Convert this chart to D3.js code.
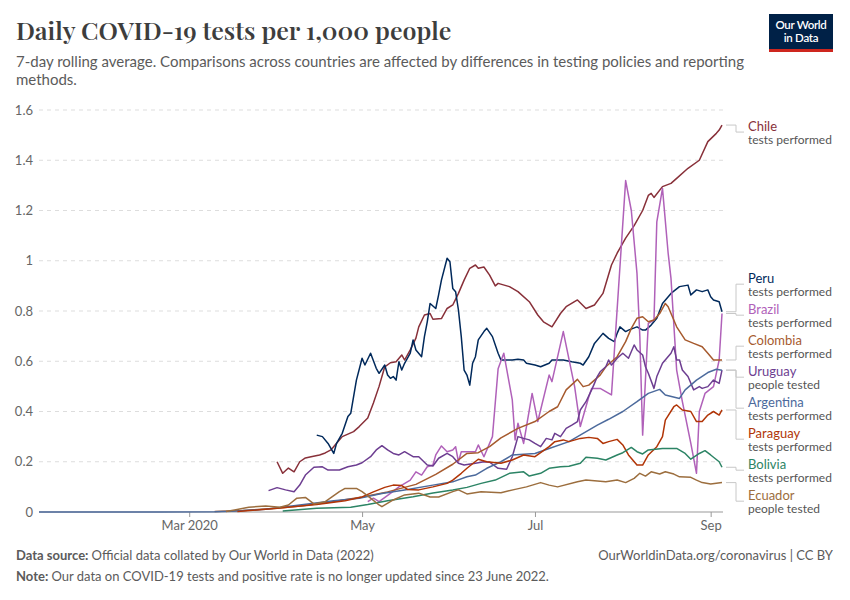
<!DOCTYPE html>
<html>
<head>
<meta charset="utf-8">
<script src="https://cdn.jsdelivr.net/npm/d3@7"></script>
<style>
  html, body { margin: 0; padding: 0; background: #fff; }
  svg { display: block; font-family: Lato, "Noto Sans", sans-serif; }
</style>
</head>
<body>
<svg id="chart" width="850" height="600"></svg>
<script>
// ---- data (2020) ----
var chile = [["04-01",0.20],["04-03",0.154],["04-05",0.175],["04-07",0.16],["04-09",0.20],["04-11",0.215],["04-13",0.22],["04-16",0.227],["04-18",0.235],["04-20",0.247],["04-22",0.274],["04-24",0.30],["04-28",0.32],["04-30",0.34],["05-03",0.374],["05-05",0.434],["05-07",0.50],["05-09",0.578],["05-11",0.594],["05-13",0.598],["05-15",0.625],["05-16",0.605],["05-18",0.645],["05-20",0.692],["05-21",0.737],["05-23",0.784],["05-25",0.79],["05-26",0.767],["05-29",0.77],["05-31",0.81],["06-02",0.824],["06-04",0.87],["06-06",0.923],["06-08",0.97],["06-10",0.983],["06-11",0.97],["06-13",0.975],["06-15",0.943],["06-17",0.90],["06-18",0.91],["06-22",0.897],["06-25",0.877],["06-29",0.837],["07-02",0.784],["07-04",0.757],["07-07",0.737],["07-10",0.79],["07-12",0.817],["07-16",0.844],["07-19",0.81],["07-22",0.824],["07-25",0.87],["07-28",0.983],["07-30",1.03],["08-02",1.09],["08-05",1.14],["08-08",1.20],["08-10",1.26],["08-11",1.268],["08-12",1.252],["08-15",1.295],["08-18",1.308],["08-20",1.328],["08-24",1.368],["08-28",1.40],["08-31",1.474],["09-03",1.507],["09-04",1.52],["09-05",1.54]];

var peru = [["04-15",0.306],["04-17",0.30],["04-19",0.273],["04-21",0.233],["04-22",0.273],["04-24",0.313],["04-26",0.38],["04-27",0.393],["04-29",0.525],["05-01",0.612],["05-02",0.585],["05-04",0.632],["05-06",0.572],["05-07",0.552],["05-09",0.585],["05-10",0.545],["05-11",0.532],["05-12",0.539],["05-13",0.525],["05-14",0.598],["05-15",0.565],["05-16",0.592],["05-18",0.632],["05-19",0.685],["05-20",0.645],["05-22",0.618],["05-23",0.698],["05-24",0.757],["05-25",0.83],["05-27",0.81],["05-28",0.864],["05-29",0.923],["05-31",1.01],["06-01",0.996],["06-02",0.89],["06-03",0.877],["06-04",0.804],["06-05",0.698],["06-06",0.565],["06-07",0.545],["06-08",0.505],["06-09",0.592],["06-10",0.618],["06-11",0.685],["06-13",0.718],["06-14",0.731],["06-16",0.698],["06-18",0.632],["06-19",0.605],["06-23",0.605],["06-25",0.608],["06-27",0.605],["06-28",0.592],["07-01",0.585],["07-03",0.578],["07-06",0.592],["07-07",0.605],["07-11",0.605],["07-14",0.598],["07-17",0.592],["07-18",0.585],["07-20",0.618],["07-22",0.671],["07-25",0.711],["07-27",0.691],["07-29",0.678],["07-30",0.711],["07-31",0.737],["08-02",0.718],["08-03",0.724],["08-06",0.737],["08-08",0.724],["08-09",0.724],["08-11",0.744],["08-13",0.771],["08-15",0.83],["08-18",0.87],["08-21",0.897],["08-24",0.903],["08-25",0.864],["08-27",0.884],["08-29",0.877],["08-31",0.884],["09-01",0.857],["09-02",0.844],["09-04",0.837],["09-05",0.797]];

var brazil = [["05-03",0.041],["05-05",0.055],["05-07",0.041],["05-11",0.074],["05-14",0.10],["05-18",0.127],["05-20",0.16],["05-22",0.147],["05-24",0.18],["05-26",0.187],["05-27",0.227],["05-29",0.263],["05-31",0.24],["06-02",0.247],["06-03",0.26],["06-04",0.20],["06-05",0.24],["06-10",0.24],["06-11",0.267],["06-13",0.22],["06-16",0.30],["06-18",0.57],["06-20",0.632],["06-23",0.446],["06-24",0.287],["06-25",0.353],["06-27",0.273],["06-30",0.472],["07-02",0.36],["07-06",0.545],["07-07",0.519],["07-11",0.718],["07-15",0.499],["07-17",0.34],["07-20",0.459],["07-21",0.492],["07-24",0.492],["07-28",0.466],["08-02",1.319],["08-04",1.2],["08-06",0.95],["08-07",0.7],["08-08",0.306],["08-10",0.751],["08-12",0.764],["08-13",1.155],["08-15",1.288],["08-17",1.03],["08-18",0.93],["08-20",0.565],["08-22",0.44],["08-25",0.273],["08-27",0.154],["08-28",0.40],["08-30",0.472],["09-02",0.499],["09-04",0.605],["09-05",0.79]];

var colombia = [["03-10",0.002],["03-20",0.006],["04-01",0.015],["04-10",0.025],["04-20",0.04],["05-01",0.06],["05-10",0.08],["05-20",0.11],["05-27",0.15],["06-02",0.19],["06-07",0.233],["06-11",0.236],["06-15",0.26],["06-19",0.295],["06-25",0.333],["07-01",0.36],["07-06",0.40],["07-09",0.419],["07-12",0.486],["07-16",0.528],["07-18",0.499],["07-20",0.505],["07-24",0.545],["07-26",0.578],["07-30",0.618],["08-02",0.678],["08-04",0.731],["08-06",0.771],["08-08",0.777],["08-10",0.757],["08-12",0.764],["08-14",0.79],["08-16",0.83],["08-17",0.817],["08-20",0.737],["08-23",0.685],["08-26",0.671],["08-29",0.658],["08-31",0.632],["09-02",0.605],["09-05",0.605]];

var uruguay = [["03-29",0.085],["04-01",0.097],["04-04",0.088],["04-07",0.081],["04-09",0.107],["04-11",0.147],["04-14",0.178],["04-17",0.18],["04-19",0.167],["04-23",0.167],["04-26",0.18],["04-29",0.187],["05-01",0.196],["05-04",0.22],["05-06",0.247],["05-08",0.264],["05-10",0.247],["05-12",0.233],["05-14",0.227],["05-16",0.24],["05-19",0.22],["05-21",0.22],["05-24",0.187],["05-26",0.183],["05-28",0.214],["05-31",0.233],["06-02",0.22],["06-04",0.194],["06-06",0.187],["06-10",0.194],["06-13",0.20],["06-15",0.198],["06-18",0.174],["06-21",0.17],["06-23",0.22],["06-25",0.30],["06-27",0.293],["06-29",0.287],["07-01",0.273],["07-03",0.26],["07-05",0.293],["07-07",0.287],["07-08",0.313],["07-10",0.30],["07-12",0.333],["07-14",0.346],["07-16",0.36],["07-17",0.406],["07-19",0.439],["07-21",0.486],["07-22",0.512],["07-23",0.539],["07-24",0.558],["07-26",0.578],["07-27",0.605],["07-28",0.585],["07-30",0.612],["08-01",0.632],["08-03",0.612],["08-05",0.665],["08-06",0.645],["08-08",0.625],["08-09",0.578],["08-10",0.552],["08-12",0.492],["08-13",0.539],["08-15",0.592],["08-18",0.632],["08-19",0.658],["08-20",0.605],["08-21",0.605],["08-22",0.565],["08-24",0.539],["08-26",0.486],["08-28",0.499],["08-29",0.492],["08-31",0.499],["09-02",0.525],["09-04",0.512],["09-05",0.565]];

var argentina = [["01-08",0],["02-20",0],["03-10",0.001],["03-16",0.003],["03-28",0.011],["04-09",0.028],["04-21",0.045],["04-30",0.055],["05-08",0.074],["05-16",0.088],["05-26",0.107],["06-02",0.12],["06-07",0.14],["06-10",0.147],["06-14",0.174],["06-19",0.20],["06-23",0.227],["07-01",0.233],["07-06",0.253],["07-13",0.28],["07-18",0.313],["07-23",0.346],["07-27",0.369],["08-01",0.40],["08-06",0.439],["08-10",0.472],["08-14",0.488],["08-16",0.466],["08-21",0.452],["08-23",0.486],["08-27",0.525],["08-31",0.555],["09-03",0.568],["09-05",0.564]];

var paraguay = [["03-18",0.002],["04-01",0.015],["04-15",0.03],["04-25",0.045],["05-01",0.06],["05-05",0.08],["05-09",0.098],["05-12",0.107],["05-15",0.105],["05-17",0.09],["05-21",0.088],["05-26",0.10],["05-31",0.114],["06-02",0.127],["06-05",0.154],["06-07",0.174],["06-11",0.21],["06-14",0.20],["06-19",0.194],["06-23",0.207],["06-27",0.227],["07-01",0.22],["07-06",0.26],["07-08",0.28],["07-11",0.287],["07-13",0.28],["07-17",0.293],["07-20",0.297],["07-23",0.293],["07-25",0.273],["07-27",0.28],["07-30",0.289],["08-01",0.267],["08-03",0.227],["08-06",0.187],["08-08",0.187],["08-10",0.227],["08-13",0.26],["08-15",0.30],["08-16",0.366],["08-19",0.419],["08-20",0.426],["08-22",0.406],["08-25",0.40],["08-27",0.36],["08-29",0.36],["08-31",0.386],["09-02",0.40],["09-04",0.386],["09-05",0.406]];

var bolivia = [["04-03",0.004],["04-15",0.015],["04-27",0.019],["05-03",0.03],["05-10",0.045],["05-19",0.061],["05-26",0.076],["06-02",0.088],["06-07",0.098],["06-12",0.114],["06-17",0.127],["06-22",0.154],["06-27",0.16],["06-29",0.143],["07-03",0.154],["07-06",0.174],["07-10",0.18],["07-13",0.182],["07-17",0.194],["07-19",0.218],["07-23",0.214],["07-26",0.207],["07-30",0.227],["08-01",0.236],["08-04",0.257],["08-06",0.24],["08-08",0.231],["08-10",0.247],["08-15",0.253],["08-20",0.253],["08-23",0.233],["08-25",0.21],["08-28",0.233],["08-30",0.244],["09-01",0.227],["09-04",0.20],["09-05",0.178]];

var ecuador = [["03-14",0.002],["03-17",0.008],["03-22",0.019],["03-28",0.024],["04-02",0.019],["04-05",0.028],["04-08",0.055],["04-11",0.058],["04-14",0.032],["04-18",0.041],["04-23",0.081],["04-25",0.094],["04-29",0.094],["05-01",0.081],["05-04",0.055],["05-07",0.028],["05-08",0.021],["05-12",0.048],["05-16",0.068],["05-21",0.075],["05-25",0.06],["05-28",0.06],["06-02",0.081],["06-04",0.088],["06-07",0.072],["06-12",0.081],["06-19",0.077],["06-24",0.09],["06-28",0.10],["07-03",0.117],["07-06",0.107],["07-09",0.10],["07-16",0.12],["07-19",0.127],["07-26",0.12],["07-30",0.127],["08-02",0.117],["08-05",0.134],["08-07",0.154],["08-09",0.143],["08-11",0.16],["08-14",0.151],["08-16",0.16],["08-19",0.151],["08-21",0.14],["08-25",0.138],["08-27",0.127],["08-29",0.117],["09-01",0.111],["09-05",0.117]];

var countries = ["Chile", "Peru", "Brazil", "Colombia", "Uruguay", "Argentina", "Paraguay", "Bolivia", "Ecuador"];
var seriesValues = [chile, peru, brazil, colombia, uruguay, argentina, paraguay, bolivia, ecuador];
var metrics = ["tests performed", "tests performed", "tests performed", "tests performed", "people tested", "tests performed", "tests performed", "tests performed", "people tested"];
var yTicks = [0, 0.2, 0.4, 0.6, 0.8, 1, 1.2, 1.4, 1.6];
var xTicks = ["2020-03-01", "2020-05-01", "2020-07-01", "2020-09-01"];
var dateRange = ["2020-01-08", "2020-09-05"];

var colors = {
    Chile: "#883039", Peru: "#00295b", Brazil: "#b061b9", Colombia: "#a65a2e",
    Uruguay: "#6d3e91", Argentina: "#4c6a9c", Paraguay: "#b13507",
    Bolivia: "#2c8465", Ecuador: "#9c6e3e"
};

// ---- chart ----
var
svg = d3.select("#chart"),
parse = d3.timeParse("%Y-%m-%d"),
margin = {left: 39, right: 722, top: 110, bottom: 512};

var x = d3.scaleTime()
    .domain(dateRange.map(parse))
    .range([margin.left, margin.right]);

var y = d3.scaleLinear()
    .domain([0, 1.6])
    .range([margin.bottom, margin.top]);

var series = countries.map(function (name, i) {
    return {
        name: name,
        metric: metrics[i],
        values: seriesValues[i].map(function (d) {
            return {date: parse("2020-" + d[0]), value: d[1]};
        })
    };
});

// header
svg.append("text")
    .attr("x", 16).attr("y", 40)
    .attr("font-family", "'Playfair Display', 'Liberation Serif', 'DejaVu Serif', serif")
    .attr("font-size", 25).attr("font-weight", 600)
    .attr("fill", "#3d3d3d")
    .text("Daily COVID-19 tests per 1,000 people");

svg.selectAll("text.subtitle")
    .data(["7-day rolling average. Comparisons across countries are affected by differences in testing policies and reporting", "methods."])
    .enter().append("text")
    .attr("class", "subtitle")
    .attr("x", 16).attr("y", function (d, i) { return 67 + i * 18; })
    .attr("font-size", 15).attr("fill", "#5b5b5b")
    .text(function (d) { return d; });

// logo
var logo = svg.append("g").attr("transform", "translate(769,14)");
logo.append("rect").attr("width", 64).attr("height", 38).attr("fill", "#002147");
logo.append("rect").attr("y", 35).attr("width", 64).attr("height", 3).attr("fill", "#ce261e");
logo.selectAll("text")
    .data(["Our World", "in Data"])
    .enter().append("text")
    .attr("x", 32).attr("y", function (d, i) { return 15 + i * 13; })
    .attr("text-anchor", "middle")
    .attr("font-size", 11.5).attr("font-weight", 600).attr("fill", "#fff")
    .attr("letter-spacing", -0.3)
    .text(function (d) { return d; });

// y grid + labels
var yAxis = svg.append("g").attr("class", "y-axis");
yAxis.selectAll("line")
    .data(yTicks.filter(function (d) { return d > 0; }))
    .enter().append("line")
    .attr("x1", margin.left).attr("x2", margin.right + 1)
    .attr("y1", function (d) { return y(d); }).attr("y2", function (d) { return y(d); })
    .attr("stroke", "#dddddd").attr("stroke-dasharray", "4,4");
yAxis.selectAll("text")
    .data(yTicks)
    .enter().append("text")
    .attr("x", 33).attr("y", function (d) { return y(d); })
    .attr("dy", "0.35em").attr("text-anchor", "end")
    .attr("font-size", 13).attr("fill", "#666")
    .text(function (d) { return d3.format("~g")(d); });

// x axis
var xAxis = svg.append("g")
    .attr("transform", "translate(0," + margin.bottom + ")")
    .call(d3.axisBottom(x)
        .tickValues(xTicks.map(parse))
        .tickSize(5)
        .tickPadding(4)
        .tickFormat(function (d) {
            return d.getMonth() === 2 ? "Mar 2020" : d3.timeFormat("%b")(d);
        }));
xAxis.select(".domain").attr("stroke", "#999").attr("d", "M" + margin.left + ",0H" + (margin.right + 1));
xAxis.selectAll(".tick line").attr("stroke", "#999");
xAxis.selectAll(".tick text")
    .attr("font-family", "Lato, sans-serif").attr("font-size", 13).attr("fill", "#666");

// lines
var line = d3.line()
    .x(function (d) { return x(d.date); })
    .y(function (d) { return y(d.value); });

svg.append("g").attr("class", "lines")
    .selectAll("path")
    .data(series)
    .enter().append("path")
    .attr("d", function (d) { return line(d.values); })
    .attr("fill", "none")
    .attr("stroke", function (d) { return colors[d.name]; })
    .attr("stroke-width", 1.5)
    .attr("stroke-linejoin", "round");

// end labels, pushed apart so that they do not overlap
var spacing = 31;
var labels = series.map(function (d) {
    var last = d.values[d.values.length - 1];
    return {name: d.name, metric: d.metric, xEnd: x(last.date), yEnd: y(last.value)};
}).sort(function (a, b) { return a.yEnd - b.yEnd; });

var clusters = labels.map(function (d) { return {items: [d], top: d.yEnd}; });
var merged = true;
while (merged) {
    merged = false;
    for (var i = 0; i < clusters.length - 1; i++) {
        var a = clusters[i], b = clusters[i + 1];
        if (a.top + a.items.length * spacing > b.top) {
            var all = a.items.concat(b.items);
            clusters.splice(i, 2, {items: all, top: d3.mean(all, function (d, k) { return d.yEnd - k * spacing; })});
            merged = true;
            break;
        }
    }
}
clusters.forEach(function (c) {
    c.items.forEach(function (d, k) { d.pos = c.top + 1 + k * spacing; });
});

var lab = svg.append("g").attr("class", "labels")
    .selectAll("g")
    .data(labels)
    .enter().append("g");

lab.append("path")
    .attr("d", function (d) {
        var mid = d.pos + 6;
        return "M" + (d.xEnd + 4) + "," + d.yEnd + "H736V" + mid + "H744";
    })
    .attr("fill", "none").attr("stroke", "#c8c8c8").attr("stroke-width", 1);

lab.append("text")
    .attr("x", 748).attr("y", function (d) { return d.pos; })
    .attr("dy", "0.35em")
    .attr("font-size", 13).attr("fill", function (d) { return colors[d.name]; })
    .text(function (d) { return d.name; });

lab.append("text")
    .attr("x", 748).attr("y", function (d) { return d.pos + 14; })
    .attr("dy", "0.35em")
    .attr("font-size", 12).attr("fill", "#555")
    .text(function (d) { return d.metric; });

// footer
var foot = svg.append("g").attr("font-size", 13).attr("fill", "#5b5b5b");
var src = foot.append("text").attr("x", 16).attr("y", 560);
src.append("tspan").attr("font-weight", 700).text("Data source: ");
src.append("tspan").text("Official data collated by Our World in Data (2022)");
foot.append("text").attr("x", 833).attr("y", 560).attr("text-anchor", "end")
    .text("OurWorldinData.org/coronavirus | CC BY");
var note = foot.append("text").attr("x", 16).attr("y", 581);
note.append("tspan").attr("font-weight", 700).text("Note: ");
note.append("tspan").text("Our data on COVID-19 tests and positive rate is no longer updated since 23 June 2022.");
</script>
</body>
</html>
